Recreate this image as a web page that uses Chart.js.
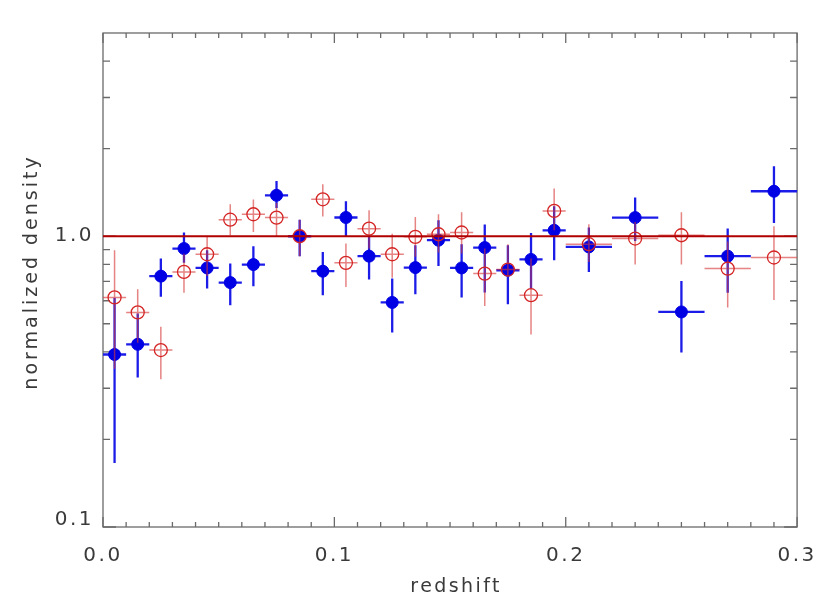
<!DOCTYPE html>
<html><head><meta charset="utf-8">
<script src="https://cdn.jsdelivr.net/npm/chart.js@4/dist/chart.umd.min.js"></script>
<style>html,body{margin:0;padding:0;background:#fff}#wrap{width:830px;height:593px}</style>
</head><body><div id="wrap"><canvas id="c" width="830" height="593"></canvas></div>
<script>
// ---- data ----
const blueZ = [0.005,0.015,0.025,0.035,0.045,0.055,0.065,0.075,0.085,0.095,0.105,0.115,0.125,0.135,0.145,0.155,0.165,0.175,0.185,0.195,0.21,0.23,0.25,0.27,0.29];
const blueZerr = [0.005,0.005,0.005,0.005,0.005,0.005,0.005,0.005,0.005,0.005,0.005,0.005,0.005,0.005,0.005,0.005,0.005,0.005,0.005,0.005,0.01,0.01,0.01,0.01,0.01];
const blueY  = [0.392,0.425,0.729,0.907,0.778,0.693,0.799,1.383,1.0,0.758,1.16,0.854,0.592,0.78,0.969,0.778,0.914,0.764,0.832,1.048,0.919,1.159,0.549,0.854,1.428];
const blueHi = [0.614,0.542,0.838,1.03,0.895,0.806,0.924,1.55,1.14,0.883,1.32,0.995,0.715,0.931,1.135,0.939,1.097,0.931,1.026,1.268,1.071,1.358,0.702,1.063,1.74];
const blueLo = [0.166,0.327,0.619,0.81,0.661,0.579,0.673,1.25,0.854,0.627,1.0,0.71,0.467,0.632,0.79,0.616,0.64,0.584,0.66,0.827,0.754,0.963,0.398,0.639,1.11];

const redZ = [0.005,0.015,0.025,0.035,0.045,0.055,0.065,0.075,0.085,0.095,0.105,0.115,0.125,0.135,0.145,0.155,0.165,0.175,0.185,0.195,0.21,0.23,0.25,0.27,0.29];
const redZerr = [0.005,0.005,0.005,0.005,0.005,0.005,0.005,0.005,0.005,0.005,0.005,0.005,0.005,0.005,0.005,0.005,0.005,0.005,0.005,0.005,0.01,0.01,0.01,0.01,0.01];
const redY  = [0.616,0.547,0.406,0.754,0.867,1.14,1.19,1.159,1.0,1.34,0.81,1.062,0.867,0.995,1.016,1.03,0.744,0.768,0.627,1.222,0.939,0.982,1.008,0.774,0.845];
const redHi = [0.895,0.657,0.488,0.87,0.995,1.288,1.337,1.3,1.14,1.51,0.944,1.228,1.02,1.165,1.19,1.21,0.907,0.939,0.838,1.459,1.1,1.12,1.21,0.96,1.082];
const redLo = [0.35,0.43,0.322,0.639,0.73,1.008,1.035,1.0,0.854,1.17,0.669,0.907,0.72,0.85,0.88,0.872,0.576,0.725,0.459,1.048,0.816,0.8,0.8,0.569,0.603];

const refLevel = 1.0;
const xRange = [0.0, 0.3];
const yRange = [0.1, 5];
const xTickLabels = [0.0, 0.1, 0.2, 0.3];
const yTickLabels = [0.1, 1.0];
const xMinorTicks = [0.01,0.02,0.03,0.04,0.05,0.06,0.07,0.08,0.09,0.11,0.12,0.13,0.14,0.15,0.16,0.17,0.18,0.19,0.21,0.22,0.23,0.24,0.25,0.26,0.27,0.28,0.29];
const yMinorTicks = [0.2,0.3,0.4,0.5,0.6,0.7,0.8,0.9,2,3,4];
const xTitle = 'redshift';
const yTitle = 'normalized density';

// ---- chart ----
const FONT = "'DejaVu Sans', sans-serif";
const TXT = '#3a3a3a';
const AXIS = '#6a6a6a';

const errStyle = {
  1: {color: 'rgba(215,55,55,0.62)', width: 1.5, z: redZ, ze: redZerr, y: redY, hi: redHi, lo: redLo},
  2: {color: '#1c1ce8', width: 2.3, z: blueZ, ze: blueZerr, y: blueY, hi: blueHi, lo: blueLo}
};

const errorBars = {
  id: 'errorBars',
  beforeDatasetDraw(chart, args) {
    const s = errStyle[args.index];
    if (!s) return;
    const xs = chart.scales.x, ys = chart.scales.y, ctx = chart.ctx;
    ctx.save();
    ctx.strokeStyle = s.color;
    ctx.lineWidth = s.width;
    ctx.lineCap = 'butt';
    for (let i = 0; i < s.z.length; i++) {
      const px = xs.getPixelForValue(s.z[i]);
      const py = ys.getPixelForValue(s.y[i]);
      ctx.beginPath();
      ctx.moveTo(xs.getPixelForValue(s.z[i] - s.ze[i]), py);
      ctx.lineTo(xs.getPixelForValue(s.z[i] + s.ze[i]), py);
      ctx.moveTo(px, ys.getPixelForValue(s.hi[i]));
      ctx.lineTo(px, ys.getPixelForValue(s.lo[i]));
      ctx.stroke();
    }
    ctx.restore();
  }
};

const frame = {
  id: 'frame',
  beforeDraw(chart) { chart.ctx.letterSpacing = '2.5px'; },
  beforeDatasetsDraw(chart) {
    const {ctx, chartArea: a} = chart;
    const xs = chart.scales.x, ys = chart.scales.y;
    ctx.save();
    ctx.strokeStyle = AXIS;
    ctx.lineWidth = 1.3;
    ctx.strokeRect(a.left, a.top, a.right - a.left, a.bottom - a.top);
    ctx.beginPath();
    const xt = (v, len) => {
      const p = xs.getPixelForValue(v);
      ctx.moveTo(p, a.bottom); ctx.lineTo(p, a.bottom - len);
      ctx.moveTo(p, a.top); ctx.lineTo(p, a.top + len);
    };
    const yt = (v, len) => {
      const p = ys.getPixelForValue(v);
      ctx.moveTo(a.left, p); ctx.lineTo(a.left + len, p);
      ctx.moveTo(a.right, p); ctx.lineTo(a.right - len, p);
    };
    xMinorTicks.forEach(v => xt(v, 5));
    xTickLabels.forEach(v => xt(v, 10));
    yMinorTicks.forEach(v => yt(v, 7));
    yTickLabels.forEach(v => yt(v, 13));
    ctx.stroke();

    // axis titles
    ctx.fillStyle = TXT;
    ctx.font = "19px " + FONT;
    ctx.textAlign = 'center';
    ctx.textBaseline = 'alphabetic';
    ctx.letterSpacing = '2.4px';
    ctx.fillText(xTitle, (a.left + a.right) / 2 + 6, chart.height - 1.5);
    ctx.letterSpacing = '3px';
    ctx.translate(37, (a.top + a.bottom) / 2 - 8);
    ctx.rotate(-Math.PI / 2);
    ctx.fillText(yTitle, 0, 0);
    ctx.restore();
  }
};

const toPts = (zs, vs) => zs.map((z, i) => ({x: z, y: vs[i]}));

new Chart(document.getElementById('c'), {
  type: 'scatter',
  data: {
    datasets: [
      {
        type: 'line',
        data: [{x: xRange[0], y: refLevel}, {x: xRange[1], y: refLevel}],
        borderColor: '#b00000', borderWidth: 2.2, pointRadius: 0, fill: false
      },
      {
        data: toPts(redZ, redY),
        pointStyle: 'circle', pointRadius: 6.5,
        backgroundColor: 'rgba(0,0,0,0)', borderColor: '#d42424', pointBorderWidth: 1.3
      },
      {
        data: toPts(blueZ, blueY),
        pointStyle: 'circle', pointRadius: 6,
        backgroundColor: '#0000e4', borderColor: '#0000e4', pointBorderWidth: 1
      }
    ]
  },
  options: {
    responsive: false,
    devicePixelRatio: 1,
    animation: false,
    layout: {padding: {left: 0, right: 31, top: 33, bottom: 0}},
    plugins: {legend: {display: false}, tooltip: {enabled: false}},
    scales: {
      x: {
        type: 'linear', min: xRange[0], max: xRange[1],
        afterBuildTicks: s => { s.ticks = xTickLabels.map(v => ({value: v})); },
        afterFit: s => { s.height = 66; },
        ticks: {callback: v => Number(v).toFixed(1), color: TXT, font: {family: FONT, size: 20}, padding: 17, maxRotation: 0, autoSkip: false},
        grid: {display: false, drawTicks: false},
        border: {display: false},
        title: {display: false}
      },
      y: {
        type: 'logarithmic', min: yRange[0], max: yRange[1],
        afterBuildTicks: s => { s.ticks = yTickLabels.map(v => ({value: v})); },
        afterFit: s => { s.width = 103; },
        ticks: {
          callback: v => Number(v) < 0.5 ? [Number(v).toFixed(1), ''] : Number(v).toFixed(1),
          color: TXT,
          font: c => ({family: FONT, size: 20, lineHeight: (c.tick && c.tick.value < 0.5) ? 0.75 : 1.2}),
          padding: 9, autoSkip: false
        },
        grid: {display: false, drawTicks: false},
        border: {display: false},
        title: {display: false}
      }
    }
  },
  plugins: [errorBars, frame]
});
</script>
</body></html>
